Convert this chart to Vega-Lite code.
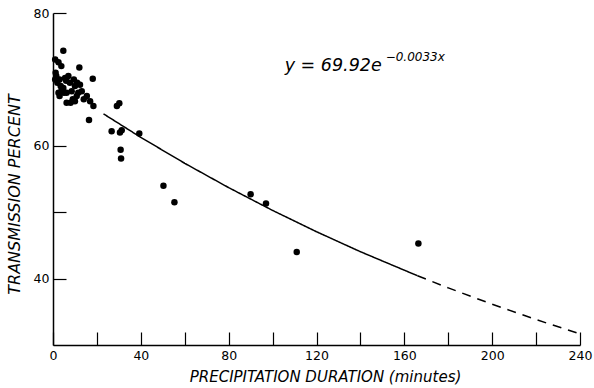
{
  "$schema": "https://vega.github.io/schema/vega-lite/v6.json",
  "width": 527,
  "height": 332,
  "autosize": "none",
  "padding": {"left": 53, "top": 13, "right": 14, "bottom": 43},
  "background": "white",
  "config": {
    "view": {"stroke": null},
    "axis": {
      "domainColor": "black",
      "domainWidth": 1.5,
      "tickColor": "black",
      "tickWidth": 1.2,
      "grid": false,
      "labelFont": "DejaVu Sans",
      "labelFontSize": 12.5,
      "labelColor": "black",
      "titleFont": "DejaVu Sans",
      "titleFontSize": 15,
      "titleFontStyle": "italic",
      "titleFontWeight": "normal",
      "titleColor": "black"
    }
  },
  "datasets": {
    "obs": [
      {"minutes": 1.0, "pct": 73.0}, {"minutes": 2.5, "pct": 72.6}, {"minutes": 4.7, "pct": 74.3},
      {"minutes": 3.8, "pct": 72.0}, {"minutes": 1.2, "pct": 71.0}, {"minutes": 1.5, "pct": 70.5},
      {"minutes": 2.0, "pct": 69.5}, {"minutes": 3.0, "pct": 70.0}, {"minutes": 3.5, "pct": 69.0},
      {"minutes": 4.0, "pct": 68.5}, {"minutes": 5.0, "pct": 68.0}, {"minutes": 5.5, "pct": 70.2},
      {"minutes": 6.0, "pct": 69.8}, {"minutes": 7.0, "pct": 70.5}, {"minutes": 7.7, "pct": 69.5},
      {"minutes": 4.7, "pct": 68.7}, {"minutes": 6.2, "pct": 68.0}, {"minutes": 6.2, "pct": 66.5},
      {"minutes": 8.5, "pct": 68.2}, {"minutes": 9.0, "pct": 67.0}, {"minutes": 10.0, "pct": 69.0},
      {"minutes": 10.0, "pct": 66.7}, {"minutes": 10.8, "pct": 67.5}, {"minutes": 11.5, "pct": 68.0},
      {"minutes": 12.3, "pct": 69.2}, {"minutes": 13.1, "pct": 68.2}, {"minutes": 12.0, "pct": 71.8},
      {"minutes": 15.4, "pct": 67.5}, {"minutes": 16.9, "pct": 66.7}, {"minutes": 18.4, "pct": 66.0},
      {"minutes": 16.4, "pct": 63.9}, {"minutes": 18.1, "pct": 70.1}, {"minutes": 14.0, "pct": 67.0},
      {"minutes": 8.0, "pct": 66.5}, {"minutes": 2.5, "pct": 68.0}, {"minutes": 3.0, "pct": 67.5},
      {"minutes": 1.0, "pct": 70.0}, {"minutes": 9.5, "pct": 70.0}, {"minutes": 11.0, "pct": 69.5},
      {"minutes": 26.7, "pct": 62.2}, {"minutes": 30.5, "pct": 62.0}, {"minutes": 31.3, "pct": 62.35},
      {"minutes": 29.1, "pct": 66.0}, {"minutes": 30.2, "pct": 66.4}, {"minutes": 39.3, "pct": 61.85},
      {"minutes": 30.8, "pct": 59.4}, {"minutes": 31.0, "pct": 58.1},
      {"minutes": 50.3, "pct": 54.0}, {"minutes": 55.3, "pct": 51.5},
      {"minutes": 90.0, "pct": 52.7}, {"minutes": 97.0, "pct": 51.3},
      {"minutes": 111.0, "pct": 44.0}, {"minutes": 166.4, "pct": 45.3}
    ],
    "fit": [
      {"minutes": 23, "pct": 64.81, "part": "fitted"},
      {"minutes": 40, "pct": 61.27, "part": "fitted"},
      {"minutes": 60, "pct": 57.36, "part": "fitted"},
      {"minutes": 80, "pct": 53.70, "part": "fitted"},
      {"minutes": 100, "pct": 50.27, "part": "fitted"},
      {"minutes": 120, "pct": 47.06, "part": "fitted"},
      {"minutes": 140, "pct": 44.05, "part": "fitted"},
      {"minutes": 166, "pct": 40.43, "part": "fitted"},
      {"minutes": 166, "pct": 40.43, "part": "extrapolated"},
      {"minutes": 180, "pct": 38.60, "part": "extrapolated"},
      {"minutes": 200, "pct": 36.14, "part": "extrapolated"},
      {"minutes": 220, "pct": 33.83, "part": "extrapolated"},
      {"minutes": 240, "pct": 31.67, "part": "extrapolated"}
    ],
    "eq": [{"main": "y = 69.92e", "exp": "−0.0033x"}]
  },
  "layer": [
    {
      "data": {"name": "fit"},
      "mark": {"type": "line", "color": "black", "strokeWidth": 1.5},
      "encoding": {
        "x": {
          "field": "minutes", "type": "quantitative",
          "scale": {"domain": [0, 240], "nice": false},
          "axis": {
            "values": [0, 20, 40, 60, 80, 100, 120, 140, 160, 180, 200, 220, 240],
            "labelExpr": "datum.value % 40 == 0 ? datum.value : ''",
            "tickSize": -13,
            "labelPadding": 17,
            "labelFlush": false,
            "title": "PRECIPITATION DURATION (minutes)",
            "titleX": 272,
            "titleY": 24
          }
        },
        "y": {
          "field": "pct", "type": "quantitative",
          "scale": {"domain": [30, 80], "nice": false, "zero": false},
          "axis": {
            "values": [40, 50, 60, 70, 80],
            "labelExpr": "datum.value % 20 == 0 ? datum.value : ''",
            "tickSize": -13,
            "labelPadding": 17,
            "title": "TRANSMISSION PERCENT",
            "titleFontSize": 16,
            "titleX": -31,
            "titleY": 181
          }
        },
        "strokeDash": {
          "field": "part", "type": "nominal",
          "scale": {"domain": ["fitted", "extrapolated"], "range": [[1, 0], [9, 7]]},
          "legend": null
        }
      }
    },
    {
      "data": {"name": "obs"},
      "mark": {"type": "circle", "color": "black", "opacity": 1, "size": 42},
      "encoding": {
        "x": {"field": "minutes", "type": "quantitative"},
        "y": {"field": "pct", "type": "quantitative"}
      }
    },
    {
      "data": {"name": "eq"},
      "mark": {"type": "text", "align": "left", "baseline": "middle", "font": "DejaVu Sans", "fontSize": 17.5, "fontStyle": "italic", "color": "black"},
      "encoding": {
        "text": {"field": "main"},
        "x": {"datum": 105.5},
        "y": {"datum": 72.0}
      }
    },
    {
      "data": {"name": "eq"},
      "mark": {"type": "text", "align": "left", "baseline": "middle", "font": "DejaVu Sans", "fontSize": 12, "fontStyle": "italic", "color": "black"},
      "encoding": {
        "text": {"field": "exp"},
        "x": {"datum": 151.5},
        "y": {"datum": 73.4}
      }
    }
  ]
}
